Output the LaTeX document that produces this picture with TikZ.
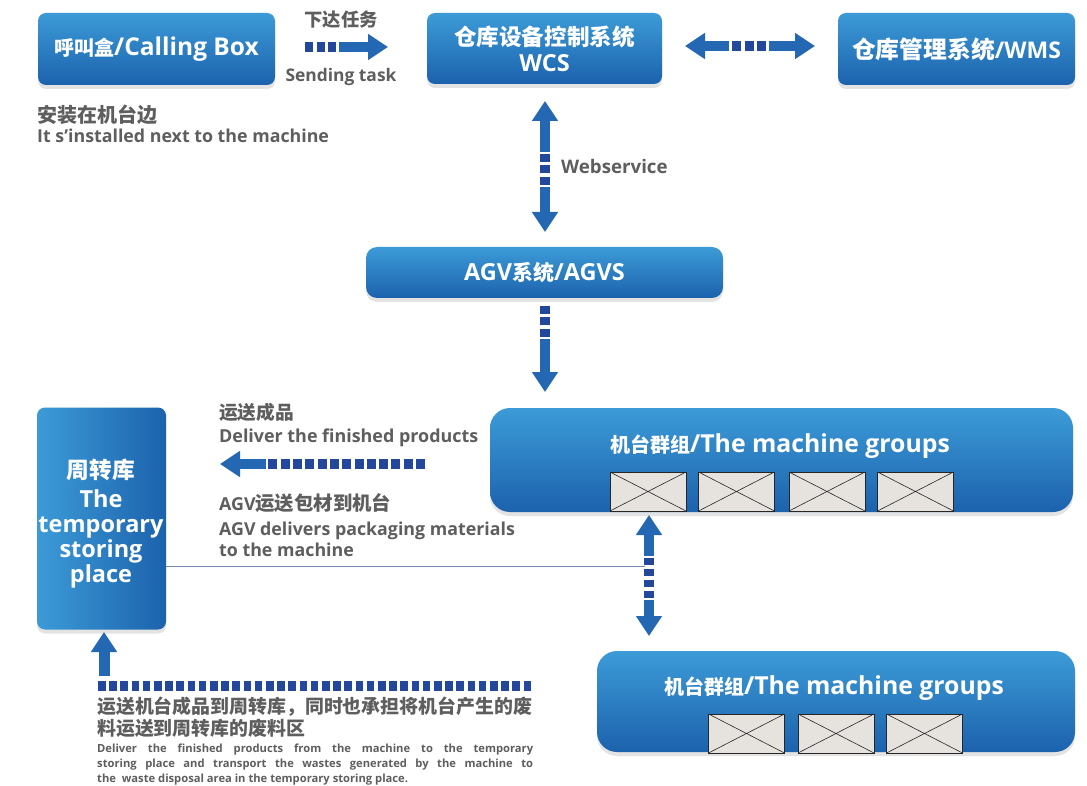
\documentclass[tikz,border=0pt]{standalone}
\usepackage{fontspec}
\setmainfont{Open Sans}
\newfontfamily\cjk{Noto Sans CJK SC}
\newcommand\zh[2]{{\cjk\fontsize{#1}{#1}\selectfont #2}}
\newcommand\fs[2]{\bfseries\fontsize{#1}{#2}\selectfont}
\usetikzlibrary{arrows.meta,shadows,calc}
\definecolor{boxtop}{HTML}{3C9BD7}
\definecolor{boxbot}{HTML}{1C62AD}
\definecolor{arr}{HTML}{2467B3}
\definecolor{arrdark}{HTML}{23479A}
\definecolor{lbl}{HTML}{5E5E5E}
\definecolor{mach}{HTML}{E6E3DF}
\definecolor{thinline}{HTML}{7089B5}
\tikzset{
  bluebox/.style={rounded corners=8pt, top color=boxtop, bottom color=boxbot, draw=none,
    text=white, font=\fs{23.5}{26}, align=center, inner sep=0pt,
    drop shadow={opacity=0.22,shadow xshift=0pt,shadow yshift=-4pt}},
  groupbox/.style={bluebox, rounded corners=20pt},
  title/.style={text=white, font=\fs{24.8}{28}, inner sep=0pt},
  machine/.style={draw=black!85, line width=0.7pt, fill=mach, minimum width=76pt, minimum height=39pt, inner sep=0pt,
    path picture={\draw[black!85,line width=0.6pt] (path picture bounding box.north west) -- (path picture bounding box.south east)
      (path picture bounding box.south west) -- (path picture bounding box.north east);}},
  lab/.style={text=lbl, font=\fs{17}{20}, inner sep=0pt, anchor=base west},
  labc/.style={lab, anchor=base},
  small/.style={text=lbl, font=\fs{11.2}{13}, inner sep=0pt, anchor=base west},
  shaft/.style={draw=arr, line width=9.5pt},
  dots/.style={draw=arrdark, line width=9.5pt, dash pattern=on 8pt off 3.5pt},
  tip/.style={-{Triangle[width=25pt,length=20pt]}},
}
\begin{document}
\begin{tikzpicture}[x=1pt,y=-1pt]
\useasboundingbox (0,0) rectangle (1087,786);
\fill[white] (0,0) rectangle (1087,786);

% boxes
\node[bluebox, font=\fs{24.5}{26}, minimum width=237pt, minimum height=72pt] (call) at (156.5,49) {\zh{20}{呼叫盒}/Calling Box};
\node[bluebox, minimum width=235pt, minimum height=71pt] (wcs) at (544.5,48.5) {\zh{22.6}{仓库设备控制系统}\\WCS};
\node[bluebox, font=\fs{23}{26}, minimum width=237pt, minimum height=72pt] (wms) at (956.5,49) {\zh{23.8}{仓库管理系统}/WMS};
\node[bluebox, rounded corners=11pt, minimum width=357pt, minimum height=51pt] (agvs) at (544.5,272.5) {AGV\zh{21}{系统}/AGVS};
\node[groupbox, minimum width=583pt, minimum height=104pt] (mg1) at (781.5,460) {};
\node[groupbox, minimum width=478pt, minimum height=101pt] (mg2) at (836,701.5) {};
\node[bluebox, left color=boxtop, right color=boxbot, minimum width=129pt, minimum height=222pt] (store) at (101.5,518.5) {};

% titles
\node[title, anchor=base] (mg1t) at (780,452) {\zh{20}{机台群组}/The machine groups};
\node[title, anchor=base] (mg2t) at (834,694) {\zh{20}{机台群组}/The machine groups};
\node[text=white, font=\fs{23.5}{25}, align=center, inner sep=0pt, anchor=base] (storet) at (101,582)
  {\zh{22.7}{周转库}\\[4pt]The\\temporary\\storing\\place};

% machines
\node[machine] (m11) at (648,491.5) {};
\node[machine] (m12) at (736.5,491.5) {};
\node[machine] (m13) at (827,491.5) {};
\node[machine] (m14) at (915.5,491.5) {};
\node[machine] (m21) at (746.5,733.5) {};
\node[machine] (m22) at (836,733.5) {};
\node[machine] (m23) at (924.5,733.5) {};

% labels
\node[labc] (l1) at (341,27) {\zh{18.3}{下达任务}};
\node[labc, font=\fs{17.4}{20}] (l2) at (341,82) {Sending task};
\node[lab] (l3) at (37,123) {\zh{20}{安装在机台边}};
\node[lab, font=\fs{17.8}{20}] (l4) at (37,143) {It s’installed next to the machine};
\node[lab, font=\fs{18.7}{20}] (l5) at (561,174) {Webservice};
\node[lab] (l6) at (219,419) {\zh{18.7}{运送成品}};
\node[lab, font=\fs{17.9}{20}] (l7) at (219,442) {Deliver the finished products};
\node[lab, font=\fs{17.8}{20}] (l8) at (219,510) {AGV\zh{19.4}{运送包材到机台}};
\node[lab, font=\fs{17.8}{20}] (l9) at (219,535) {AGV delivers packaging materials};
\node[lab, font=\fs{17.8}{20}] (l10) at (219,556) {to the machine};
\node[lab] (l11) at (97,713) {\zh{18.9}{运送机台成品到周转库，同时也承担将机台产生的废}};
\node[lab] (l12) at (97,735) {\zh{18.9}{料运送到周转库的废料区}};
\node[small] (l13) at (97,752) {\makebox[436pt][s]{Deliver the finished products from the machine to the temporary}};
\node[small] (l14) at (97,767) {\makebox[436pt][s]{storing place and transport the wastes generated by the machine to}};
\node[small] (l15) at (97,782) {the\ \ waste disposal area in the temporary storing place.};

% arrow calling -> wcs
\coordinate (a1s) at (305,47); \coordinate (a1m) at (339,47); \coordinate (a1e) at (388,47);
\draw[dots] (a1s) -- (a1m);
\draw[shaft,tip] (a1m) -- (a1e);

% arrow wcs <-> wms
\coordinate (a2l) at (685,46); \coordinate (a2a) at (729,46); \coordinate (a2b) at (732,46);
\coordinate (a2c) at (766,46); \coordinate (a2d) at (769,46); \coordinate (a2r) at (815,46);
\draw[shaft,tip] (a2a) -- (a2l);
\draw[dots, dash pattern=on 9pt off 3.5pt] (a2b) -- (a2c);
\draw[shaft,tip] (a2d) -- (a2r);

% arrow wcs <-> agvs
\coordinate (a3t) at (545,101); \coordinate (a3a) at (545,152); \coordinate (a3b) at (545,154);
\coordinate (a3c) at (545,185); \coordinate (a3d) at (545,187); \coordinate (a3e) at (545,232);
\draw[shaft,tip] (a3a) -- (a3t);
\draw[dots] (a3b) -- (a3c);
\draw[shaft,tip] (a3d) -- (a3e);

% arrow agvs -> machine groups
\coordinate (a4s) at (545,306); \coordinate (a4m) at (545,339); \coordinate (a4e) at (545,392);
\draw[dots] (a4s) -- (a4m);
\draw[shaft,tip] (a4m) -- (a4e);

% arrow machine groups -> store
\coordinate (a5s) at (425,464); \coordinate (a5m) at (266,464); \coordinate (a5e) at (220,464);
\draw[dots, dash pattern=on 9pt off 3.3pt] (a5s) -- (a5m);
\draw[shaft,tip] (a5m) -- (a5e);

% thin line
\coordinate (tl) at (645,566);
\draw[thinline, line width=1pt] (store.east |- tl) -- (tl);

% arrow mg1 <-> mg2
\coordinate (a6t) at (649,515); \coordinate (a6a) at (649,556); \coordinate (a6b) at (649,558);
\coordinate (a6c) at (649,598); \coordinate (a6d) at (649,600); \coordinate (a6e) at (649,636);
\draw[shaft,tip] (a6a) -- (a6t);
\draw[dots, dash pattern=on 7pt off 4pt] (a6b) -- (a6c);
\draw[shaft,tip] (a6d) -- (a6e);

% bottom arrow to store
\coordinate (a7t) at (104,632); \coordinate (a7a) at (104,676);
\draw[shaft,tip,line width=11pt] (a7a) -- (a7t);
\coordinate (a7s) at (98,686); \coordinate (a7e) at (533,686);
\draw[dots, line width=10pt, dash pattern=on 7.6pt off 3.6pt] (a7s) -- (a7e);
\end{tikzpicture}
\end{document}
